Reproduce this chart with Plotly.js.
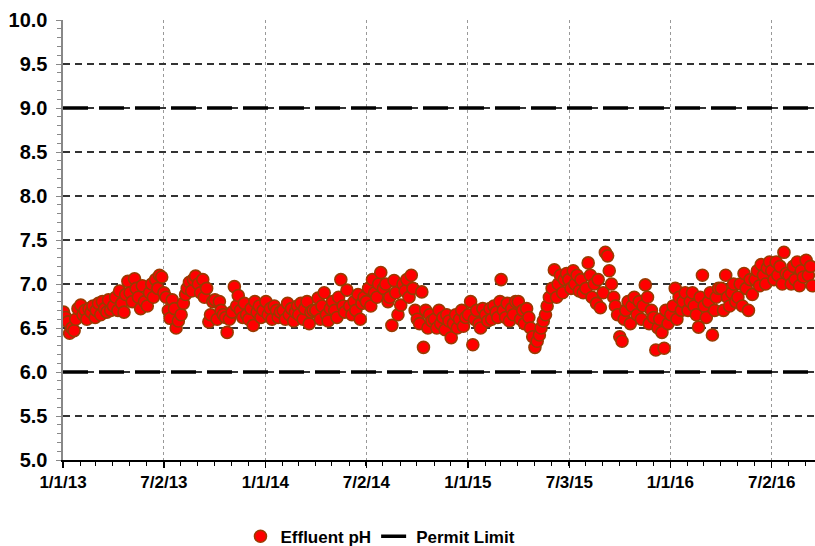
<!DOCTYPE html>
<html>
<head>
<meta charset="utf-8">
<script src="https://cdn.plot.ly/plotly-3.0.1.min.js"></script>
<style>html,body{margin:0;padding:0;background:#fff;}#chart{width:815px;height:546px;}</style>
</head>
<body>
<div id="chart"></div>
<script>
// Sampling days within each month (8 samples per month)
const sampleDays = ['02','06','10','13','17','21','24','28'];

// Effluent pH readings, 8 per month, by year
const ph2013 = [
 6.68, 6.62, 6.57, 6.44, 6.50, 6.47, 6.60, 6.72,
 6.76, 6.65, 6.70, 6.60, 6.72, 6.68, 6.75, 6.62,
 6.70, 6.78, 6.65, 6.80, 6.72, 6.68, 6.82, 6.70,
 6.75, 6.85, 6.70, 6.92, 6.78, 6.68, 6.88, 7.03,
 6.90, 6.80, 7.06, 6.95, 6.85, 6.72, 6.98, 6.80,
 6.75, 6.90, 7.00, 6.85, 7.05, 6.95, 7.10, 7.08,
 6.90, 6.85, 6.70, 6.61, 6.82, 6.72, 6.50, 6.58,
 6.65, 6.78, 6.88, 6.95, 7.02, 6.92, 7.05, 7.09,
 7.00, 6.90, 7.05, 6.85, 6.95, 6.57, 6.65, 6.80,
 6.82, 6.60, 6.80, 6.70, 6.65, 6.62, 6.45, 6.60,
 6.68, 6.97, 6.75, 6.87, 6.70, 6.62, 6.78, 6.65,
 6.60, 6.72, 6.53, 6.80, 6.68, 6.75, 6.62, 6.70
];
const ph2014 = [
 6.80, 6.65, 6.72, 6.60, 6.75, 6.70, 6.62, 6.68,
 6.70, 6.60, 6.78, 6.65, 6.72, 6.58, 6.68, 6.75,
 6.65, 6.78, 6.60, 6.72, 6.80, 6.55, 6.68, 6.70,
 6.70, 6.84, 6.60, 6.75, 6.90, 6.65, 6.58, 6.72,
 6.80, 6.70, 6.62, 6.85, 7.05, 6.75, 6.68, 6.93,
 6.75, 6.65, 6.80, 6.70, 6.88, 6.60, 6.78, 6.85,
 6.80, 6.95, 6.75, 7.05, 6.90, 6.85, 7.00, 7.13,
 6.95, 7.00, 6.80, 6.85, 6.53, 7.04, 6.90, 6.65,
 6.76, 7.00, 6.92, 7.05, 6.85, 7.10, 6.95, 6.70,
 6.60, 6.55, 6.91, 6.28, 6.70, 6.50, 6.65, 6.58,
 6.60, 6.50, 6.70, 6.55, 6.62, 6.48, 6.65, 6.58,
 6.39, 6.55, 6.65, 6.50, 6.60, 6.70, 6.52, 6.62
];
const ph2015 = [
 6.65, 6.80, 6.31, 6.60, 6.70, 6.55, 6.50, 6.72,
 6.65, 6.58, 6.72, 6.60, 6.75, 6.68, 6.62, 6.80,
 7.05, 6.70, 6.62, 6.78, 6.58, 6.72, 6.65, 6.80,
 6.80, 6.60, 6.70, 6.55, 6.72, 6.62, 6.50, 6.40,
 6.28, 6.35, 6.42, 6.50, 6.58, 6.65, 6.75, 6.85,
 6.95, 7.16, 6.85, 7.00, 7.10, 6.90, 7.05, 7.12,
 7.05, 6.95, 7.15, 7.00, 7.10, 6.92, 7.05, 6.90,
 6.95, 7.24, 7.10, 6.85, 7.00, 6.78, 7.05, 6.73,
 6.90, 7.36, 7.32, 7.15, 7.00, 6.85, 6.75, 6.65,
 6.40, 6.35, 6.60, 6.70, 6.80, 6.55, 6.75, 6.85,
 6.65, 6.80, 6.60, 6.75, 6.99, 6.85, 6.55, 6.70,
 6.62, 6.25, 6.50, 6.60, 6.45, 6.27, 6.70, 6.55
];
const ph2016 = [
 6.65, 6.75, 6.95, 6.60, 6.85, 6.70, 6.80, 6.90,
 6.70, 6.80, 6.90, 6.75, 6.65, 6.51, 6.85, 7.10,
 6.75, 6.62, 6.80, 6.90, 6.42, 6.70, 6.85, 6.95,
 6.95, 6.70, 7.10, 6.85, 6.75, 6.90, 7.00, 6.80,
 6.85, 7.00, 6.75, 7.12, 6.95, 6.70, 7.05, 6.88,
 7.05, 7.15, 6.98, 7.22, 7.10, 7.00, 7.18, 7.25,
 7.15, 7.05, 7.25, 7.10, 7.20, 7.00, 7.36, 7.12,
 7.10, 7.00, 7.20, 7.05, 7.25, 6.98, 7.15, 7.08,
 7.27, 7.10, 7.20, 6.98
];
const years = ['2013', '2014', '2015', '2016'];
const yearValues = [ph2013, ph2014, ph2015, ph2016];

// Permit limits
const permitLow = 6.0;
const permitHigh = 9.0;
const xStart = '2013-01-01';
const xEnd = '2016-09-18';

// Tick labels
const tickDates = ['2013-01-01','2013-07-02','2014-01-01','2014-07-02','2015-01-01','2015-07-03','2016-01-01','2016-07-02'];
const tickLabels = ['1/1/13','7/2/13','1/1/14','7/2/14','1/1/15','7/3/15','1/1/16','7/2/16'];

const phX = [], phY = [];
years.forEach((yr, k) => {
  yearValues[k].forEach((v, i) => {
    const m = String(Math.floor(i / 8) + 1).padStart(2, '0');
    phX.push(yr + '-' + m + '-' + sampleDays[i % 8]);
    phY.push(v);
  });
});

const font = {family: 'Liberation Sans, Arial, sans-serif', color: '#000'};

const traces = [
  {
    type: 'scatter', mode: 'markers', name: 'Effluent pH',
    x: phX, y: phY,
    marker: {size: 12, color: '#FF0000', line: {color: '#9A3A00', width: 1.6}},
    cliponaxis: true
  },
  {
    type: 'scatter', mode: 'lines', name: 'Permit Limit',
    x: [xStart, xEnd, null, xStart, xEnd],
    y: [permitLow, permitLow, null, permitHigh, permitHigh],
    line: {color: '#000', width: 3.5, dash: '25px,11px'}
  }
];

const layout = {
  width: 815, height: 546,
  margin: {l: 63, r: 0, t: 20, b: 86, autoexpand: false},
  paper_bgcolor: '#fff', plot_bgcolor: '#fff',
  font: font,
  showlegend: true,
  legend: {
    orientation: 'h', x: 0.236, xanchor: 'left',
    yref: 'container', y: 0.017, yanchor: 'middle',
    font: {family: font.family, size: 17, weight: 'bold', color: '#000'},
    itemwidth: 30
  },
  xaxis: {
    type: 'date', range: [xStart, xEnd],
    tickmode: 'array', tickvals: tickDates, ticktext: tickLabels,
    showgrid: true, gridcolor: '#999', gridwidth: 1, griddash: '3px,3px',
    showline: true, linecolor: '#000', linewidth: 1.5,
    ticks: 'outside', ticklen: 6, tickcolor: '#000', tickwidth: 1.5,
    tickfont: {family: font.family, size: 17, weight: 'bold', color: '#000'},
    minor: {tickmode: 'linear', tick0: '2013-01-01', dtick: 'M1', ticks: 'outside', ticklen: 4, tickcolor: '#000', tickwidth: 1, showgrid: false},
    zeroline: false, fixedrange: true, automargin: false
  },
  yaxis: {
    range: [5, 10], tick0: 5, dtick: 0.5, tickformat: '.1f',
    showgrid: true, gridcolor: '#333', gridwidth: 1.3, griddash: '7px,5px',
    showline: true, linecolor: '#888', linewidth: 2.5,
    ticks: 'outside', ticklen: 5, tickcolor: '#888', tickwidth: 1,
    ticklabelstandoff: 4,
    tickfont: {family: font.family, size: 20, weight: 'bold', color: '#000'},
    minor: {dtick: 0.1, ticks: 'outside', ticklen: 4, tickcolor: '#888', tickwidth: 1, showgrid: false},
    zeroline: false, fixedrange: true, automargin: false
  }
};

Plotly.newPlot('chart', traces, layout, {displayModeBar: false, staticPlot: true});
</script>
</body>
</html>
